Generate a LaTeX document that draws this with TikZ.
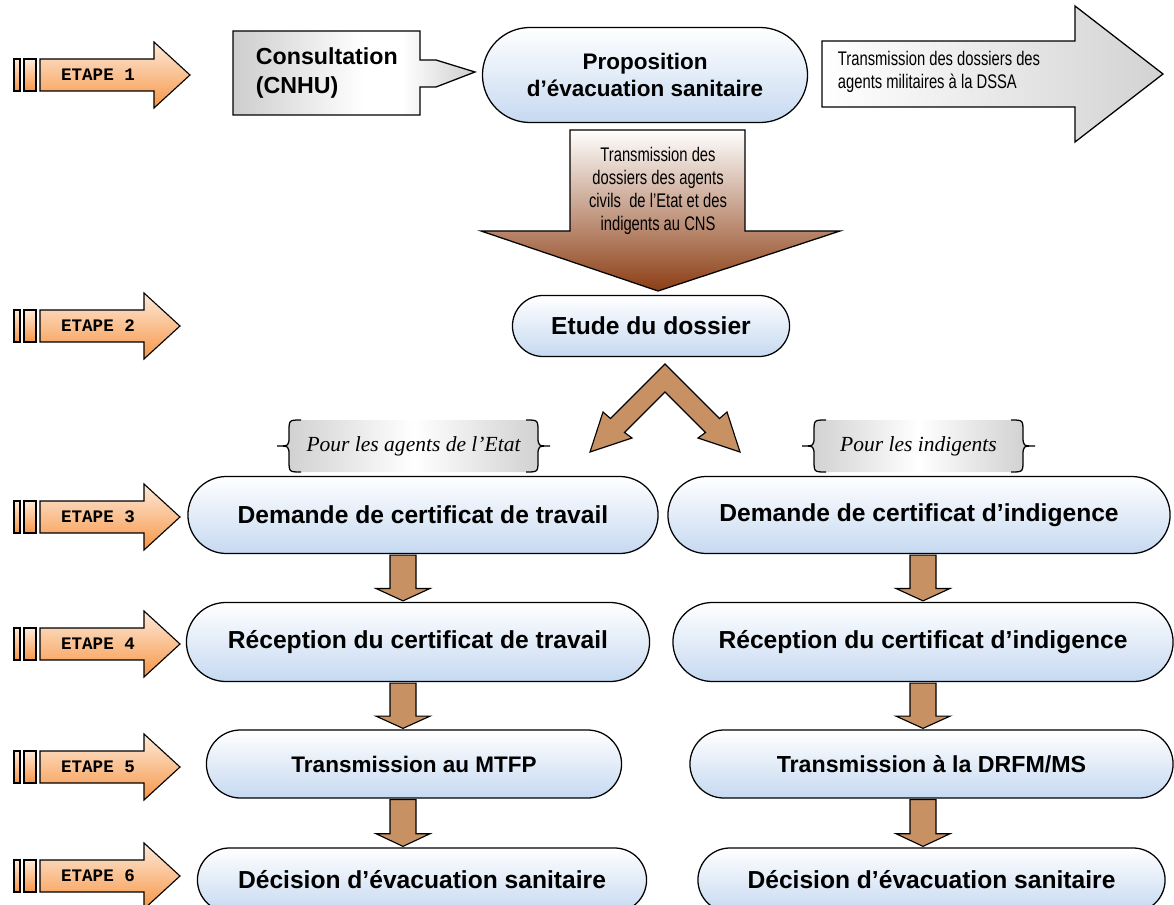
\documentclass[tikz,border=0pt]{standalone}
\usepackage{fontspec}
\setmainfont{Liberation Sans}
\newfontfamily\narrowfont[FakeStretch=0.75]{Liberation Sans}
\newfontfamily\bracefont{Liberation Serif}
\newfontfamily\etapefont{Liberation Mono}
\usetikzlibrary{shapes.misc,calc}
\definecolor{boxblue}{RGB}{198,217,241}
\definecolor{etapelight}{RGB}{253,234,218}
\definecolor{etapedark}{RGB}{247,150,70}
\definecolor{cork}{RGB}{200,145,100}
\definecolor{brownend}{RGB}{140,62,20}
\definecolor{consultgray}{RGB}{205,205,205}
\pgfdeclarehorizontalshading{consultshade}{100bp}{color(0bp)=(consultgray); color(25bp)=(consultgray); color(52bp)=(white); color(60bp)=(white); color(75bp)=(consultgray); color(100bp)=(consultgray)}
\pgfdeclarehorizontalshading{braceshade}{100bp}{color(0bp)=(consultgray); color(25bp)=(consultgray); color(50bp)=(white); color(75bp)=(consultgray); color(100bp)=(consultgray)}
\begin{document}
\begin{tikzpicture}[x=0.025cm,y=-0.025cm]
  \tikzstyle{stepbox}=[rounded rectangle,draw=black,line width=0.9pt,top color=white,bottom color=boxblue,inner sep=0pt,font=\bfseries\fontsize{17.5}{19.2}\selectfont]
  \tikzstyle{etape}=[draw=black,line width=0.8pt,top color=etapelight,bottom color=etapedark]
  \tikzstyle{bracetext}=[font=\bracefont\itshape\fontsize{15.3}{17}\selectfont]
  \tikzstyle{corkdown}=[draw=black,line width=0.8pt,fill=cork,to path={
    ($(\tikztostart)+(-13,1)$) -- ($(\tikztostart)!0.72!(\tikztotarget)+(-13,0)$)
    -- ($(\tikztostart)!0.72!(\tikztotarget)+(-27,0)$) -- ($(\tikztotarget)+(0,-1)$)
    -- ($(\tikztostart)!0.72!(\tikztotarget)+(27,0)$) -- ($(\tikztostart)!0.72!(\tikztotarget)+(13,0)$)
    -- ($(\tikztostart)+(13,1)$) -- cycle}]
  \useasboundingbox (0,0) rectangle (1174,905);

  % etapes
  \foreach \n/\yy/\tx in {1/75/190,2/326/180,3/517/180,4/644/180,5/767/180,6/876/180}{
    \path[etape] (14,\yy-16) rectangle (20,\yy+16);
    \path[etape] (24,\yy-16) rectangle (36,\yy+16);
    \path[etape] (40,\yy-16) -- (\tx-36,\yy-16) -- (\tx-36,\yy-33) -- (\tx,\yy)
      -- (\tx-36,\yy+33) -- (\tx-36,\yy+16) -- (40,\yy+16) -- cycle;
    \node[font=\etapefont\bfseries\fontsize{12.5}{14}\selectfont] (etape\n) at (98,\yy) {ETAPE \n};
  }

  % ligne 1
  \path[draw=black,line width=0.9pt,shading=consultshade]
    (233,31) -- (420,31) -- (420,60) -- (436,60) -- (475,72) -- (436,87) -- (420,87) -- (420,115) -- (233,115) -- cycle;
  \node[anchor=west,align=left,font=\bfseries\fontsize{16.5}{20.6}\selectfont] (consult) at (251,73) {Consultation\\(CNHU)};
  \node[stepbox,minimum width=8.125cm,minimum height=2.375cm,align=center,font=\bfseries\fontsize{16}{19.2}\selectfont] (prop) at (645,75) {Proposition\\d’évacuation sanitaire};
  \path[draw=black,line width=0.9pt,left color=white,right color=gray!35]
    (822,41) -- (1075,41) -- (1075,6) -- (1163,74) -- (1075,142) -- (1075,107) -- (822,107) -- cycle;
  \node[anchor=west,align=left,font=\narrowfont\fontsize{14}{16.4}\selectfont] (miltxt) at (833,72) {Transmission des dossiers des\\agents militaires à la DSSA};
  \path[draw=black,line width=0.9pt,top color=white,bottom color=brownend]
    (570,130) -- (745,130) -- (745,231) -- (840,231) -- (658,291) -- (481,231) -- (570,231) -- cycle;
  \node[align=center,font=\narrowfont\fontsize{14}{16.4}\selectfont] (civtxt) at (658,191) {Transmission des\\dossiers des agents\\civils~ de l’Etat et des\\indigents au CNS};

  % ligne 2
  \node[stepbox,minimum width=6.925cm,minimum height=1.525cm] (etude) at (651,326) {Etude du dossier};
  \path[draw=black,line width=0.8pt,fill=cork] (665,364) -- (610.5,418.5) -- (603,412) -- (590,452) -- (632,438)
    -- (624.5,432.5) -- (665,392) -- (705.5,432.5) -- (698,438) -- (740,452) -- (727,412) -- (719.5,418.5) -- cycle;

  % accolades
  \foreach \nm/\L/\R/\txt in {agents/277/550/{Pour les agents de l’Etat},indig/802/1035/{Pour les indigents}}{
    \path[shading=braceshade] (\L+24,420) -- (\R-24,420)
      .. controls (\R-12,420) .. (\R-12,432) -- (\R-12,436) .. controls (\R-12,446) .. (\R,446)
      .. controls (\R-12,446) .. (\R-12,456) -- (\R-12,460) .. controls (\R-12,472) .. (\R-24,472)
      -- (\L+24,472) .. controls (\L+12,472) .. (\L+12,460) -- (\L+12,456) .. controls (\L+12,446) .. (\L,446)
      .. controls (\L+12,446) .. (\L+12,436) -- (\L+12,432) .. controls (\L+12,420) .. (\L+24,420) -- cycle;
    \draw[line width=0.9pt] (\L+24,420) .. controls (\L+12,420) .. (\L+12,432) -- (\L+12,436) .. controls (\L+12,446) .. (\L,446)
      .. controls (\L+12,446) .. (\L+12,456) -- (\L+12,460) .. controls (\L+12,472) .. (\L+24,472);
    \draw[line width=0.9pt] (\R-24,420) .. controls (\R-12,420) .. (\R-12,432) -- (\R-12,436) .. controls (\R-12,446) .. (\R,446)
      .. controls (\R-12,446) .. (\R-12,456) -- (\R-12,460) .. controls (\R-12,472) .. (\R-24,472);
    \node[bracetext] (\nm) at ({(\L+\R)/2},446) {\txt};
  }

  % colonnes
  \node[stepbox,minimum width=11.75cm,minimum height=1.925cm] (dtrav) at (423,515) {Demande de certificat de travail};
  \node[stepbox,minimum width=12.55cm,minimum height=1.925cm] (dind) at (919,515) {Demande de certificat d’indigence};
  \node[stepbox,minimum width=11.575cm,minimum height=1.975cm] (rtrav) at (418,642) {Réception du certificat de travail};
  \node[stepbox,minimum width=12.5cm,minimum height=1.975cm] (rind) at (923,642) {Réception du certificat d’indigence};
  \node[stepbox,minimum width=10.375cm,minimum height=1.7cm,font=\bfseries\fontsize{16}{19}\selectfont] (ttrav) at (414,764) {Transmission au MTFP};
  \node[stepbox,minimum width=12.075cm,minimum height=1.7cm,font=\bfseries\fontsize{16.5}{19}\selectfont] (tind) at (931.5,764) {Transmission à la DRFM/MS};
  \node[stepbox,minimum width=11.225cm,minimum height=1.6cm] (dectrav) at (422,880) {Décision d’évacuation sanitaire};
  \node[stepbox,minimum width=11.675cm,minimum height=1.6cm] (decind) at (931.5,880) {Décision d’évacuation sanitaire};

  \coordinate (axL) at (403,0);
  \coordinate (axR) at (923,0);
  \path[corkdown] (dtrav.south -| axL) to (rtrav.north -| axL);
  \path[corkdown] (rtrav.south -| axL) to (ttrav.north -| axL);
  \path[corkdown] (ttrav.south -| axL) to (dectrav.north -| axL);
  \path[corkdown] (dind.south -| axR) to (rind.north -| axR);
  \path[corkdown] (rind.south -| axR) to (tind.north -| axR);
  \path[corkdown] (tind.south -| axR) to (decind.north -| axR);
\end{tikzpicture}
\end{document}
